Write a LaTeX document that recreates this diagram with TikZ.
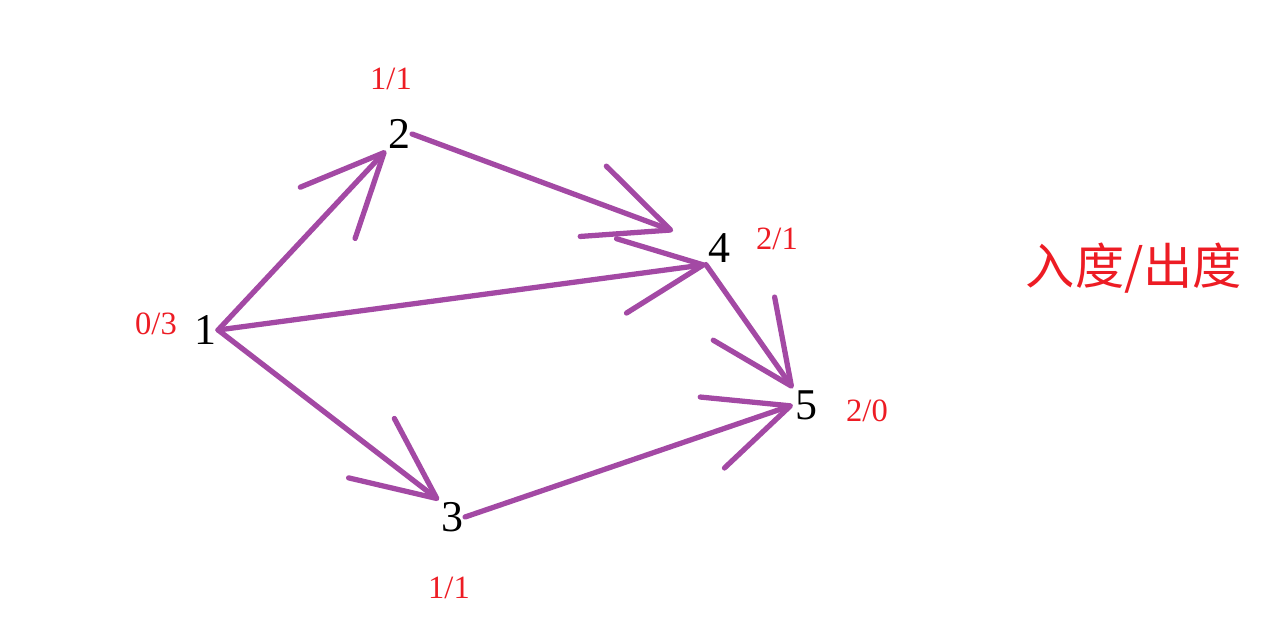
\documentclass[tikz,border=0pt]{standalone}
\usepackage{fontspec}
\usetikzlibrary{arrows.meta}
\setmainfont{Liberation Serif}
\newfontfamily\cjk{Noto Sans CJK SC}
\definecolor{grape}{HTML}{A349A4}
\definecolor{degred}{HTML}{ED1C24}

\begin{document}
\begin{tikzpicture}[
  vertex/.style={font=\fontsize{25}{28}\selectfont,inner sep=1pt},
  degree/.style={font=\fontsize{18.5}{22}\selectfont,text=degred},
  edge/.style={draw=grape,line width=3pt,line cap=round,
    -{Straight Barb[length=1.65cm,width=1.5cm,round]}}]
\useasboundingbox (0,0) rectangle (25.52,12.74);
% vertices
\node[vertex] (n1) at (4.10,6.14) {1};
\node[vertex] (n2) at (7.98,10.06) {2};
\node[vertex] (n3) at (9.04,2.40) {3};
\node[vertex] (n4) at (14.38,7.78) {4};
\node[vertex] (n5) at (16.12,4.64) {5};
% in-degree / out-degree of each vertex
\node[degree] (d1) at (3.12,6.26) {0/3};
\node[degree] (d2) at (7.82,11.16) {1/1};
\node[degree] (d3) at (8.98,0.98) {1/1};
\node[degree] (d4) at (15.54,7.96) {2/1};
\node[degree] (d5) at (17.34,4.52) {2/0};
% legend
\node[font=\cjk\fontsize{28}{32}\selectfont,text=degred] (key) at (22.68,7.38) {入度/出度};
% edges
\draw[edge] (n1.east) -- (n2.south west);
\draw[edge] (n1.east) -- (n3.north west);
\draw[edge] (n1.east) -- (n4.south west);
\draw[edge,shorten >=0.7cm] (n2.east) -- (n4);
\draw[edge] (n4.south west) -- (n5.north west);
\draw[edge] (n3.east) -- (n5.west);
\end{tikzpicture}
\end{document}
